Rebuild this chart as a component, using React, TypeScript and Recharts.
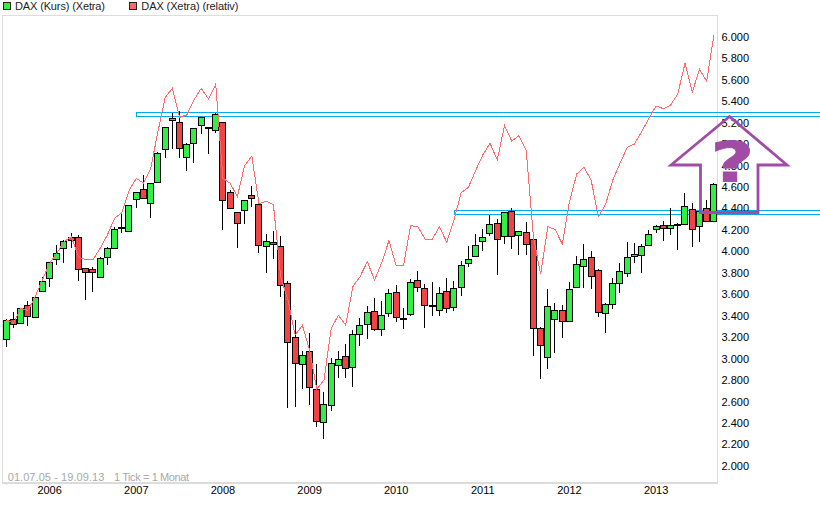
import React from "react";
import { ComposedChart, Bar, Line, XAxis, YAxis, ReferenceArea } from "recharts";

const months = [
  "2005-07","2005-08","2005-09","2005-10","2005-11","2005-12",
  "2006-01","2006-02","2006-03","2006-04","2006-05","2006-06","2006-07","2006-08","2006-09","2006-10","2006-11","2006-12",
  "2007-01","2007-02","2007-03","2007-04","2007-05","2007-06","2007-07","2007-08","2007-09","2007-10","2007-11","2007-12",
  "2008-01","2008-02","2008-03","2008-04","2008-05","2008-06","2008-07","2008-08","2008-09","2008-10","2008-11","2008-12",
  "2009-01","2009-02","2009-03","2009-04","2009-05","2009-06","2009-07","2009-08","2009-09","2009-10","2009-11","2009-12",
  "2010-01","2010-02","2010-03","2010-04","2010-05","2010-06","2010-07","2010-08","2010-09","2010-10","2010-11","2010-12",
  "2011-01","2011-02","2011-03","2011-04","2011-05","2011-06","2011-07","2011-08","2011-09","2011-10","2011-11","2011-12",
  "2012-01","2012-02","2012-03","2012-04","2012-05","2012-06","2012-07","2012-08","2012-09","2012-10","2012-11","2012-12",
  "2013-01","2013-02","2013-03","2013-04","2013-05","2013-06","2013-07","2013-08","2013-09",
];
const opens = [
  3181,3367,3330,3498,3386,3628,
  3750,3927,4030,4135,4132,3843,3833,3759,3945,4029,4226,4188,
  4486,4586,4449,4645,4953,5223,5204,4884,5009,5183,5160,5130,
  5204,4552,4365,4384,4524,4440,4048,4085,4051,3710,3200,2948,
  3069,2715,2407,2566,2939,3023,2920,3228,3321,3442,3275,3424,
  3620,3377,3414,3731,3657,3499,3452,3629,3480,3666,3889,3955,
  4095,4169,4269,4141,4378,4151,4185,4113,3284,3013,3367,3451,
  3348,3665,3861,3945,3824,3423,3507,3703,3796,3955,3964,4057,
  4206,4244,4216,4255,4253,4393,4234,4402,4287,
];
const highs = [
  3367,3436,3476,3538,3572,3759,
  3899,4060,4107,4172,4150,3850,3852,3945,4045,4225,4350,4437,
  4552,4713,4642,4928,5158,5295,5307,5009,5148,5251,5160,5288,
  5204,4573,4365,4477,4608,4440,4160,4191,4144,3722,3358,3072,
  3237,2948,2690,3004,3069,3138,3268,3377,3492,3567,3536,3651,
  3688,3473,3744,3818,3697,3713,3666,3750,3722,3908,4051,4163,
  4210,4340,4300,4365,4405,4188,4272,4132,3293,3650,3516,3501,
  3712,3961,4070,4001,3833,3516,3750,3889,4088,4076,4070,4200,
  4247,4281,4402,4262,4542,4449,4374,4480,4635,
];
const lows = [
  3112,3290,3330,3308,3386,3628,
  3672,3877,3896,4030,3728,3548,3625,3759,3877,4029,4176,4188,
  4409,4496,4315,4645,4875,4959,4875,4754,4822,5099,4912,5108,
  4204,4393,4036,4260,4412,3989,3796,3933,3579,2538,2553,2721,
  2572,2367,2255,2516,2824,2824,2740,3122,3187,3262,3215,3393,
  3346,3281,3402,3626,3290,3402,3402,3424,3449,3588,3859,3955,
  4005,4144,3784,4073,4026,3970,3970,3029,2815,2907,3050,3196,
  3348,3665,3656,3647,3392,3237,3460,3610,3765,3895,3802,4057,
  4175,4101,4156,4017,4244,4045,4091,4278,4278,
];
const closes = [
  3361,3321,3470,3395,3572,3722,
  3899,3983,4095,4104,3833,3812,3812,3936,4029,4207,4232,4430,
  4552,4496,4636,4915,5158,5242,4962,4999,5148,5251,5150,5279,
  4477,4403,4263,4477,4496,4057,4095,4067,3688,3156,2958,3038,
  2734,2417,2575,2958,2995,2911,3228,3312,3433,3275,3405,3610,
  3386,3377,3713,3666,3498,3490,3610,3477,3657,3871,3927,4057,
  4138,4253,4113,4365,4141,4188,4067,3284,3125,3488,3451,3348,
  3647,3880,3926,3768,3432,3507,3703,3815,3945,3973,4048,4160,
  4234,4216,4244,4253,4421,4206,4374,4287,4626,
];
const relative = [
  3361,3330,3470,3450,3579,3734,
  3890,3985,4090,4138,3950,3921,3921,4030,4154,4309,4362,4567,
  4682,4636,4775,5117,5434,5521,5251,5273,5413,5521,5422,5559,
  4682,4636,4511,4800,4890,4443,4471,4433,3765,3548,3222,3312,
  3082,2715,2802,3284,3405,3312,3672,3766,3905,3734,3896,4101,
  3865,3865,4241,4228,4116,4113,4231,4085,4294,4548,4598,4754,
  4900,5008,4853,5173,5030,5080,4946,4138,3787,4231,4206,4069,
  4464,4722,4784,4666,4324,4439,4666,4822,4971,5002,5117,5241,
  5356,5331,5365,5468,5754,5484,5698,5586,6018,
];
const yearTicks = ["2005-07","2006-01","2007-01","2008-01","2009-01","2010-01","2011-01","2012-01","2013-01"];
const priceTicks = [2000,2200,2400,2600,2800,3000,3200,3400,3600,3800,4000,4200,4400,4600,4800,5000,5200,5400,5600,5800,6000];
const upperBand = [5261, 5298];
const lowerBand = [4347, 4384];
const seriesNames = ["DAX (Kurs) (Xetra)", "DAX (Xetra) (relativ)"];

const GREEN = "#33ee44";
const RED = "#f04444";
const REL = "#ff6a6a";
const BLUE = "#00a8ec";
const PURPLE = "#a04ca6";
const FRAME = "#dcdcdc";
const FONT = "'Liberation Sans', Arial, sans-serif";

const rows = months.map((month, i) => ({
  month, open: opens[i], high: highs[i], low: lows[i], close: closes[i], relative: relative[i],
  range: [lows[i], highs[i]],
}));

function Candle(props: any) {
  const { x, y, width, height, payload } = props;
  const h = payload.high - payload.low || 1;
  const py = (v: number) => y + ((payload.high - v) / h) * height;
  const cx = Math.round(x + width / 2 - 0.5) + 0.5;
  const top = Math.round(py(Math.max(payload.open, payload.close))) + 0.5;
  const bottom = Math.round(py(Math.min(payload.open, payload.close))) + 0.5;
  const up = payload.close >= payload.open;
  return (
    <g shapeRendering="crispEdges">
      <line x1={cx} x2={cx} y1={y} y2={y + height} stroke="#000" strokeWidth={1} />
      <rect x={cx - 3} y={top} width={6} height={Math.max(bottom - top, 1)} fill={up ? GREEN : RED} stroke="#000" strokeWidth={1} />
    </g>
  );
}

function Band(props: any) {
  const { x, y, height } = props;
  return <rect x={x + 4.3} y={y} width={820 - x} height={height} fill="none" stroke={BLUE} strokeWidth={1} shapeRendering="crispEdges" />;
}

function Frame(props: any) {
  const { x, y, width, height } = props;
  return <rect x={x} y={y} width={width} height={height} fill="none" stroke={FRAME} strokeWidth={1.5} shapeRendering="crispEdges" />;
}

export default function App() {
  return (
    <div style={{ position: "absolute", left: 0, top: 0, width: 820, height: 522, background: "#fff", overflow: "hidden" }}>
      <ComposedChart width={820} height={522} data={rows} barCategoryGap={0}
        margin={{ top: 15.5, right: 0, bottom: 0, left: 2.7 }}>
        <XAxis dataKey="month" ticks={yearTicks} interval={0} height={39}
          tickFormatter={(m: string) => (m.endsWith("-01") ? m.slice(0, 4) : "")}
          axisLine={false} tickLine={{ stroke: FRAME }} tickSize={2} tickMargin={1}
          tick={{ fontFamily: FONT, fontSize: 11, fill: "#000" }} />
        <YAxis orientation="right" width={102.5} domain={[1841, 6200]} allowDataOverflow
          ticks={priceTicks} interval={0} axisLine={false} tickLine={false} tickSize={0} tickMargin={4}
          tickFormatter={(v: number) => `${Math.floor(v / 1000)}.${String(v % 1000).padStart(3, "0")}`}
          tick={{ fontFamily: FONT, fontSize: 11, fill: "#000" }} />
        <ReferenceArea y1={1841} y2={6200} shape={Frame} ifOverflow="visible" />
        <Line dataKey="relative" name={seriesNames[1]} stroke={REL} strokeWidth={1} dot={false}
          isAnimationActive={false} shapeRendering="crispEdges" />
        <Bar dataKey="range" name={seriesNames[0]} shape={Candle} isAnimationActive={false} fill={GREEN} />
        <ReferenceArea x1="2007-01" x2="2013-09" y1={upperBand[0]} y2={upperBand[1]} shape={Band} ifOverflow="visible" />
        <ReferenceArea x1="2010-09" x2="2013-09" y1={lowerBand[0]} y2={lowerBand[1]} shape={Band} ifOverflow="visible" />
      </ComposedChart>
      <svg width={820} height={522} style={{ position: "absolute", left: 0, top: 0, pointerEvents: "none" }}>
        <rect x={3.5} y={2.5} width={7} height={7} fill={GREEN} stroke="#222" strokeWidth={1} shapeRendering="crispEdges" />
        <text x={15} y={10} fontFamily={FONT} fontSize={11} fill="#222" textLength={90}>{seriesNames[0]}</text>
        <rect x={129.5} y={2.5} width={7} height={7} fill="#ff6666" stroke="#222" strokeWidth={1} shapeRendering="crispEdges" />
        <text x={141.3} y={10} fontFamily={FONT} fontSize={11} fill="#222" textLength={97}>{seriesNames[1]}</text>
        <text x={7.7} y={481} fontFamily={FONT} fontSize={11} fill="#a8a8a8" textLength={96.6}>01.07.05 - 19.09.13</text>
        <text x={114} y={481} fontFamily={FONT} fontSize={11} fill="#a8a8a8" textLength={75}>1 Tick = 1 Monat</text>
        <polygon points="729.5,116.5 787,165 758,165 758,212.5 700.5,212.5 700.5,165 671,165" fill="none" stroke={PURPLE} strokeWidth={2.8} />
        <text transform="translate(732.5,181) scale(1.35,1)" textAnchor="middle" fontFamily="'DejaVu Sans', sans-serif" fontWeight="bold" fontSize={56} fill={PURPLE} stroke={PURPLE} strokeWidth={0.8}>?</text>
      </svg>
    </div>
  );
}
